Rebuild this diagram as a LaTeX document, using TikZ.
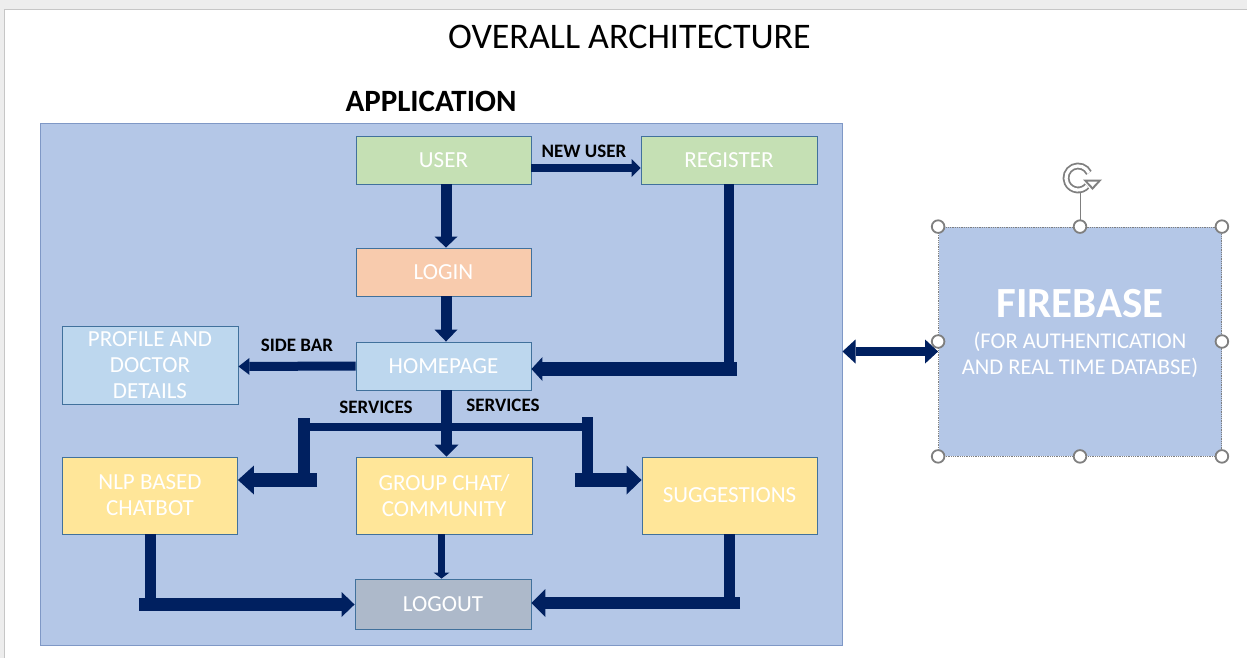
\documentclass[tikz,border=0pt]{standalone}
\usepackage{fontspec}
\setmainfont{Carlito}
\usetikzlibrary{arrows.meta,calc}
\definecolor{navy}{HTML}{002060}
\definecolor{appfill}{HTML}{B4C7E7}
\definecolor{appline}{HTML}{7F98C6}
\definecolor{boxline}{HTML}{41719C}
\definecolor{cgreen}{HTML}{C5E0B4}
\definecolor{corange}{HTML}{F8CBAD}
\definecolor{cblue}{HTML}{BDD7EE}
\definecolor{cyellow}{HTML}{FFE699}
\definecolor{cgray}{HTML}{ADB9CA}
\definecolor{handlec}{HTML}{7F7F7F}
\definecolor{pagegray}{HTML}{EDEDED}
\begin{document}
\begin{tikzpicture}[x=1pt,y=-1pt,
  box/.style={draw=boxline, line width=0.9pt, text=white, align=center, inner sep=0pt,
    font=\fontsize{23}{26}\selectfont},
  lbl/.style={font=\fontsize{19}{21}\selectfont\bfseries, text=black, inner sep=0pt},
  fbt/.style={text=white, inner sep=0pt, font=\fontsize{22.5}{26}\selectfont},
  bar/.style={draw=navy, line width=#1, line cap=butt},
  arr/.style args={#1/#2/#3}{draw=navy, line width=#1, line cap=butt,
    -{Triangle[width=#2,length=#3,line width=0pt]}},
  handle/.style={draw=handlec, line width=1.8pt, fill=white}]
\useasboundingbox (0,0) rectangle (1247,658);
% page
\fill[pagegray] (0,0) rectangle (1247,658);
\fill[white] (4,9) rectangle (1247,658);
\draw[gray!45, line width=0.8pt] (4,658) -- (4,9) -- (1247,9);

% titles
\node[font=\fontsize{36}{40}\selectfont, inner sep=0pt] (title) at (629.5,37) {OVERALL ARCHITECTURE};
\node[font=\fontsize{31}{36}\selectfont\bfseries, inner sep=0pt] (apptitle) at (431,101) {APPLICATION};

% application container
\node[draw=appline, line width=1pt, fill=appfill, minimum width=802pt, minimum height=521pt, inner sep=0pt] (app) at (441,384.5) {};

% boxes
\node[box, fill=cgreen, minimum width=175pt, minimum height=48pt] (user) at (443.5,160) {USER};
\node[box, fill=cgreen, minimum width=176pt, minimum height=48pt] (register) at (729,160) {REGISTER};
\node[box, fill=corange, minimum width=175pt, minimum height=48pt] (login) at (443.5,272) {LOGIN};
\node[box, fill=cblue, minimum width=175pt, minimum height=48pt] (homepage) at (443.5,366) {HOMEPAGE};
\node[box, fill=cblue, minimum width=176pt, minimum height=78pt] (profile) at (150,365) {PROFILE AND\\DOCTOR\\DETAILS};
\node[box, fill=cyellow, minimum width=175pt, minimum height=77pt] (nlp) at (150,495.5) {NLP BASED\\CHATBOT};
\node[box, fill=cyellow, minimum width=176pt, minimum height=77pt] (group) at (444,495.5) {GROUP CHAT/\\COMMUNITY};
\node[box, fill=cyellow, minimum width=175pt, minimum height=77pt] (sugg) at (729.5,495.5) {SUGGESTIONS};
\node[box, fill=cgray, minimum width=176pt, minimum height=50pt] (logout) at (443,604) {LOGOUT};

% labels
\node[lbl] (lnew) at (584,151) {NEW USER};
\node[lbl] (lside) at (297,345) {SIDE BAR};
\node[lbl] (lserv1) at (376,407) {SERVICES};
\node[lbl] (lserv2) at (503,405) {SERVICES};

% connectors
\draw[arr={11pt/23pt/11pt}] ([xshift=2.5pt]user.south) -- ([xshift=2.5pt]login.north);
\draw[arr={8pt/18pt/9pt}] ([yshift=-8pt]user.east) -- ([yshift=-8pt]register.west);
\draw[arr={11pt/23pt/12pt}] ([xshift=2.5pt]login.south) -- ([xshift=2.5pt]homepage.north);

\coordinate (rg1) at (729,374);
\coordinate (rg2) at (737,369);
\draw[bar=10pt] (register.south) -- (rg1);
\draw[arr={14pt/24pt/11pt}] (rg2) -- ([yshift=-3pt]homepage.east);

\draw[arr={9pt/17pt/11pt}] (homepage.west) -- ([yshift=-1.5pt]profile.east);
\draw[arr={11pt/24pt/12pt}] ([xshift=3pt]homepage.south) -- ([xshift=2.5pt]group.north);

% services left
\coordinate (sc) at (446.5,427);
\coordinate (sl) at (310,427);
\coordinate (sl1) at (304,418);
\coordinate (sl2) at (304,474);
\coordinate (sl3) at (317,480);
\draw[bar=8pt] (sc) -- (sl);
\draw[bar=12pt] (sl1) -- (sl2);
\draw[arr={14pt/29pt/16pt}] (sl3) -- ([yshift=15.5pt]nlp.east);

% services right
\coordinate (sr) at (582,427);
\coordinate (sr1) at (587.5,417);
\coordinate (sr2) at (587.5,474);
\coordinate (sr3) at (575,480);
\draw[bar=8pt] (sc) -- (sr);
\draw[bar=11pt] (sr1) -- (sr2);
\draw[arr={14pt/29pt/15pt}] (sr3) -- ([yshift=15.5pt]sugg.west);

% to logout
\coordinate (nl1) at (150.5,598);
\coordinate (nl2) at (139,604.5);
\draw[bar=11pt] ([xshift=0.5pt]nlp.south) -- (nl1);
\draw[arr={13pt/25pt/13pt}] (nl2) -- ([yshift=-0.5pt]logout.west);

\draw[arr={7pt/16pt/6pt}] ([xshift=-2.5pt]group.south) -- ([xshift=-1.5pt]logout.north);

\coordinate (sg1) at (729.5,597);
\coordinate (sg2) at (740,603);
\draw[bar=11pt] (sugg.south) -- (sg1);
\draw[arr={12pt/28pt/14pt}] (sg2) -- ([yshift=1pt]logout.east);

% firebase
\node[draw=handlec, densely dotted, line width=0.8pt, fill=appfill, minimum width=283pt, minimum height=229pt, inner sep=0pt] (fb) at (1080,341.5) {};
\node[text=white, inner sep=0pt, font=\fontsize{43}{46}\selectfont\bfseries] (fbtitle) at (1080,304) {FIREBASE};
\node[fbt] (fbsub1) at (1080,342) {(FOR AUTHENTICATION};
\node[fbt] (fbsub2) at (1080,368) {AND REAL TIME DATABSE)};

\draw[draw=navy, line width=9pt, {Triangle[width=24pt,length=13pt,line width=0pt]}-{Triangle[width=24pt,length=13pt,line width=0pt]}]
  ([yshift=33pt]app.east) -- ([yshift=-10pt]fb.west);

% selection handles
\coordinate (rot) at (1080,192);
\draw[handlec, line width=0.9pt] (fb.north) -- (rot);
\draw[handlec, line width=1.8pt, double=white, double distance=3.2pt]
  (1088.9,172.9) arc[start angle=-25, end angle=-318, radius=12];
\fill[handlec] (1083,179.5) -- (1102,179.5) -- (1092.5,190) -- cycle;
\fill[white] (1087.5,181.5) -- (1097.5,181.5) -- (1092.5,186.8) -- cycle;
\foreach \a in {north west,north,north east,west,east,south west,south,south east}
  \draw[handle] (fb.\a) circle[radius=6.3pt];
\end{tikzpicture}
\end{document}
